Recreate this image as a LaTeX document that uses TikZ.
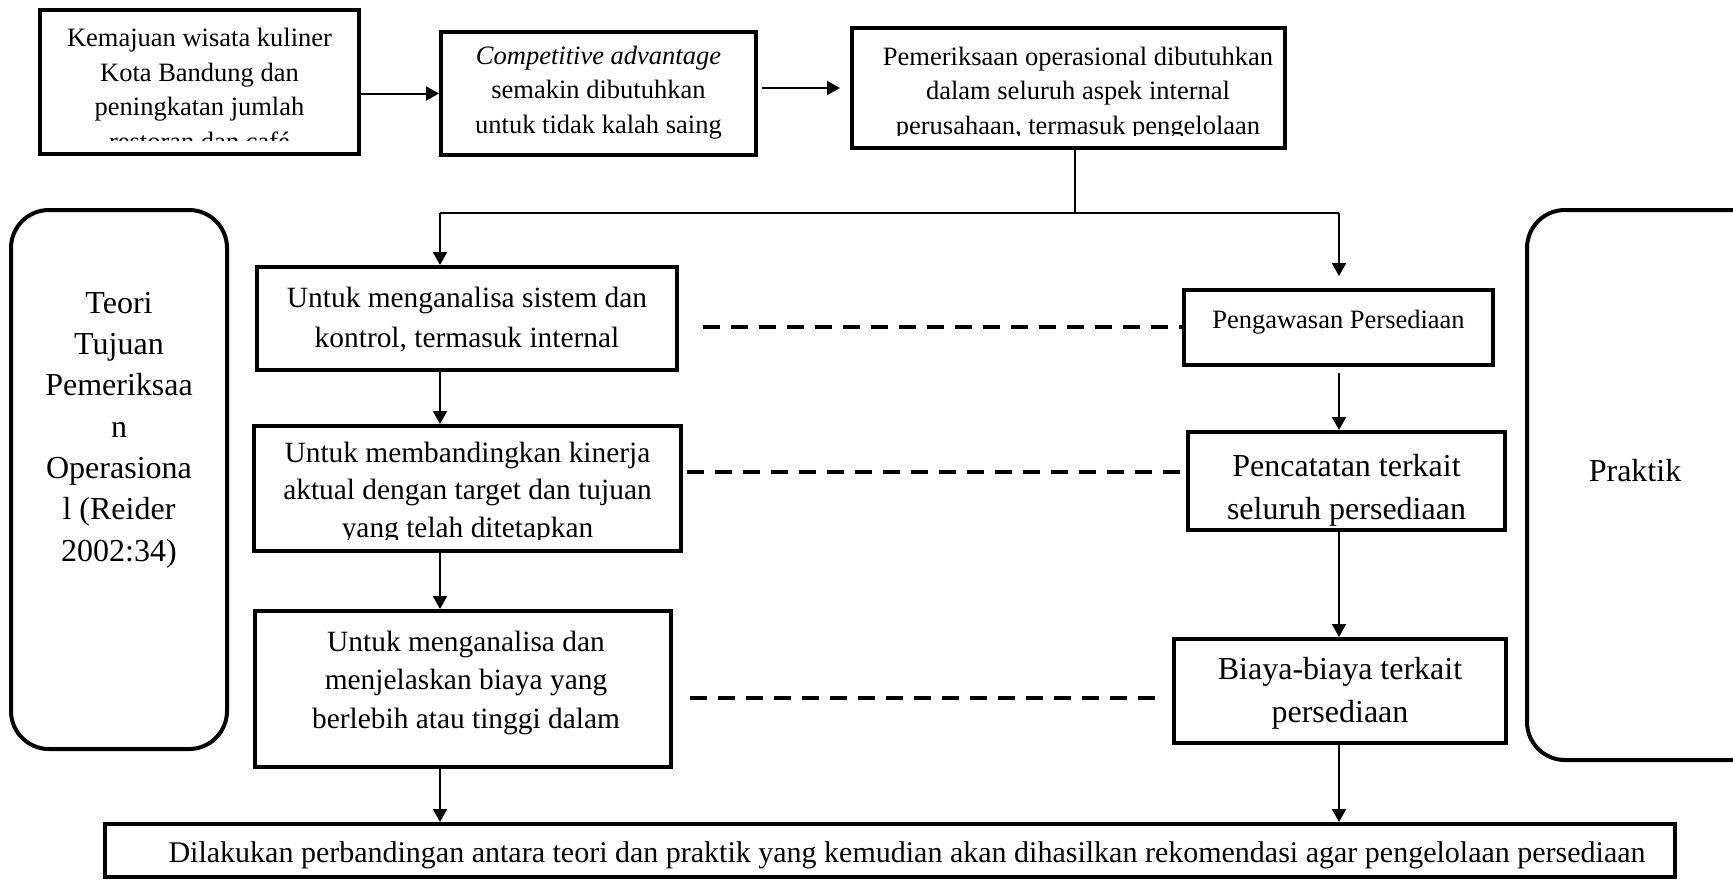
\documentclass[tikz,border=0pt]{standalone}
\usepackage{fontspec}
\setmainfont{Liberation Serif}
\usetikzlibrary{arrows.meta,fit}

\begin{document}
\begin{tikzpicture}[x=0.5pt, y=-0.5pt,
    box/.style={draw, line width=2pt, inner sep=0pt},
    roundbox/.style={box, rounded corners=19pt},
    txt/.style={inner sep=0pt, align=center, anchor=base},
    fsmall/.style={font=\fontsize{13.25pt}{17.2pt}\selectfont},
    fbig/.style={font=\fontsize{16pt}{21.5pt}\selectfont},
    link/.style={line width=1pt, -{Triangle[length=6.5pt,width=7pt]}},
    tie/.style={line width=1.6pt, dash pattern=on 8.5pt off 5.5pt}]
    \useasboundingbox (0,0) rectangle (1733,879);
    \clip (0,0) rectangle (1733,879);
    % top row (texts run past the box and are cut)
    \node[box, fit={(40,10) (359,154)}] (kuliner) {};
    \node[box, fit={(441,32) (756,155)}] (saing) {};
    \node[box, fit={(852,28) (1285,148)}] (operasional) {};
    \begin{scope}
        \clip (44,14) rectangle (355,140);
        \node[txt, fsmall] (kulinertxt) at (199.5,150)
            {Kemajuan wisata kuliner\\Kota Bandung dan\\peningkatan jumlah\\restoran dan café};
    \end{scope}
    \begin{scope}
        \clip (445,36) rectangle (752,139);
        \node[txt, fsmall] (saingtxt) at (598.5,133)
            {\textit{Competitive advantage}\\semakin dibutuhkan\\untuk tidak kalah saing};
    \end{scope}
    \begin{scope}
        \clip (856,32) rectangle (1281,135);
        \node[txt, fsmall] (operasionaltxt) at (1078,134)
            {Pemeriksaan operasional dibutuhkan\\dalam seluruh aspek internal\\perusahaan, termasuk pengelolaan};
    \end{scope}
    % side boxes
    \node[roundbox, fit={(11,210) (227,749)}] (teori) {};
    \node[txt, font=\fontsize{16pt}{20.65pt}\selectfont] (teoritxt) at (119,561)
        {Teori\\Tujuan\\Pemeriksaa\\n\\Operasiona\\l (Reider\\2002:34)};
    \node[roundbox, fit={(1527,210) (1770,760)}] (praktik) {};
    \node[txt, fbig] (praktiktxt) at (1635,481) {Praktik};
    % theory column
    \node[box, fit={(257,267) (677,370)}] (sistem) {};
    \node[txt, font=\fontsize{14.7pt}{20pt}\selectfont] (sistemtxt) at (467,347)
        {Untuk menganalisa sistem dan\\kontrol, termasuk internal};
    \node[box, fit={(254,426) (681,551)}] (kinerja) {};
    \begin{scope}
        \clip (258,430) rectangle (677,539);
        \node[txt, font=\fontsize{14.7pt}{18.75pt}\selectfont] (kinerjatxt) at (467.5,537)
            {Untuk membandingkan kinerja\\aktual dengan target dan tujuan\\yang telah ditetapkan};
    \end{scope}
    \node[box, fit={(255,611) (671,767)}] (biaya) {};
    \node[txt, font=\fontsize{14.7pt}{19.25pt}\selectfont] (biayatxt) at (466,728)
        {Untuk menganalisa dan\\menjelaskan biaya yang\\berlebih atau tinggi dalam};
    % practice column
    \node[box, fit={(1184,290) (1493,365)}] (pengawasan) {};
    \node[txt, fsmall] (pengawasantxt) at (1338.5,328) {Pengawasan Persediaan};
    \node[box, fit={(1188,432) (1505,530)}] (pencatatan) {};
    \node[txt, fbig] (pencatatantxt) at (1346.5,519) {Pencatatan terkait\\seluruh persediaan};
    \node[box, fit={(1174,639) (1506,743)}] (biayapers) {};
    \node[txt, fbig] (biayaperstxt) at (1340,722) {Biaya-biaya terkait\\persediaan};
    % result
    \node[box, fit={(105,824) (1675,877)}] (hasil) {};
    \node[txt, font=\fontsize{15pt}{17pt}\selectfont] (hasiltxt) at (907,862)
        {Dilakukan perbandingan antara teori dan praktik yang kemudian akan dihasilkan rekomendasi agar pengelolaan persediaan};
    % connectors
    \coordinate (split) at (1075,213);
    \coordinate (jl) at (440,213);
    \coordinate (jr) at (1339,213);
    \draw[link] (kuliner.east |- saing.west) -- (saing.west);
    \draw[link, shorten <=2pt, shorten >=5pt] (saing.east |- operasional.west) -- (operasional.west);
    \draw[line width=1pt] (operasional.south -| split) -- (split);
    \draw[line width=1pt] (jl) -- (jr);
    \draw[link] (jl) -- (jl |- sistem.north);
    \draw[link, shorten >=6pt] (jr) -- (jr |- pengawasan.north);
    \draw[link] (sistem.south -| jl) -- (kinerja.north -| jl);
    \draw[link] (kinerja.south -| jl) -- (biaya.north -| jl);
    \draw[link] (biaya.south -| jl) -- (hasil.north -| jl);
    \draw[link, shorten <=3pt] (pengawasan.south -| jr) -- (pencatatan.north -| jr);
    \draw[link] (pencatatan.south -| jr) -- (biayapers.north -| jr);
    \draw[link] (biayapers.south -| jr) -- (hasil.north -| jr);
    % dashed ties
    \coordinate (d1) at (703,327);
    \coordinate (d2) at (687,472);
    \coordinate (d3) at (690,698);
    \draw[tie] (d1) -- (d1 -| pengawasan.west);
    \draw[tie] (d2) -- (d2 -| pencatatan.west);
    \draw[tie] (d3) -- ([xshift=-7.5pt]d3 -| biayapers.west);
\end{tikzpicture}
\end{document}
